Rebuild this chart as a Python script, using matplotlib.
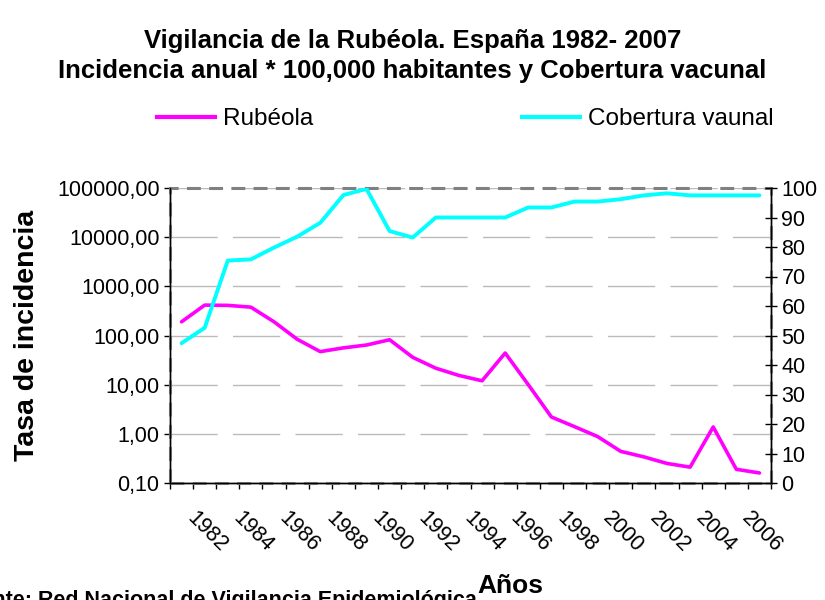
import matplotlib
matplotlib.use("Agg")
import matplotlib.pyplot as plt
import matplotlib.transforms as mtransforms
from matplotlib.patches import Rectangle
from matplotlib.lines import Line2D

plt.rcParams['font.family'] = ['Liberation Sans', 'DejaVu Sans']
plt.rcParams['lines.scale_dashes'] = False

anios = list(range(1982, 2008))
rubeola = [190, 415, 410, 377, 190, 84, 47, 56, 64, 82, 36, 21.6, 15.4, 12,
           44, 10, 2.2, 1.4, 0.88, 0.44, 0.34, 0.25, 0.21, 1.38, 0.19, 0.16]
cobertura = [47.4, 52.6, 75.4, 75.8, 79.8, 83.5, 88.2, 97.6, 99.7, 85.4, 83.2,
             90, 90, 90, 90, 93.4, 93.4, 95.4, 95.4, 96.2, 97.5, 98.2, 97.5,
             97.5, 97.5, 97.5]
ticks_izq = [0.1, 1, 10, 100, 1000, 10000, 100000]
ticks_der = list(range(0, 101, 10))

fig = plt.figure(figsize=(8.25, 6), dpi=100)
ax = fig.add_axes([170/825, 1 - 483/600, (771 - 170)/825, (483 - 188)/600])
ax2 = ax.twinx()

x = list(range(len(anios)))
ax.plot(x, rubeola, color='#FF00FF', lw=2.6, solid_capstyle='round', zorder=3)
ax2.plot(x, cobertura, color='#00FFFF', lw=2.8, solid_capstyle='round', zorder=3)

ax.set_yscale('log')
ax.set_ylim(0.1, 100000)
ax.set_yticks(ticks_izq)
ax.set_yticklabels([f"{v:.2f}".replace('.', ',') for v in ticks_izq], fontsize=15.5)
ax.yaxis.set_minor_locator(plt.NullLocator())
ax.tick_params(axis='y', which='major', direction='out', length=4.5, width=1, pad=3)
ax.yaxis.grid(True, color='#BBBBBB', lw=1, dashes=(34, 11))
ax.set_axisbelow(True)

ax2.set_ylim(0, 100)
ax2.set_yticks(ticks_der)
ax2.set_yticklabels([str(v) for v in ticks_der], fontsize=15.5)
ax2.tick_params(axis='y', direction='inout', length=9, width=1, pad=3)

ax.set_xlim(-0.5, len(anios) - 0.5)
ax.set_xticks([i - 0.5 for i in range(len(anios) + 1)])
ax.set_xticklabels([])
ax.tick_params(axis='x', which='major', direction='out', length=4.5, width=1)
ax.set_xticks(x[::2], minor=True)
ax.set_xticklabels([str(a) for a in anios[::2]], minor=True, fontsize=15.5,
                   rotation=-45, ha='left', va='top', rotation_mode='anchor')
ax.tick_params(axis='x', which='minor', length=0, pad=18)
desplazamiento = mtransforms.ScaledTranslation(16/100, 0, fig.dpi_scale_trans)
for lab in ax.get_xticklabels(minor=True):
    lab.set_transform(lab.get_transform() + desplazamiento)

for a in (ax, ax2):
    for s in a.spines.values():
        s.set_color('black')
        s.set_linewidth(1)
    a.spines['top'].set_visible(False)

borde = Rectangle((0, 0), 1, 1, transform=ax.transAxes, fill=False,
                  edgecolor='#808080', lw=2.2, linestyle=(0, (10, 6)), zorder=5,
                  clip_on=False)
ax.add_patch(borde)

ax.set_ylabel('Tasa de incidencia', fontsize=20.5, fontweight='bold', labelpad=12)

fig.text(0.5, 1 - 56/600,
         'Vigilancia de la Rubéola. España 1982- 2007\n'
         'Incidencia anual * 100,000 habitantes y Cobertura vacunal',
         ha='center', va='center', fontsize=18.5, fontweight='bold', linespacing=1.3)

fig.text(510/825, 1 - 586/600, 'Años', ha='center', va='center',
         fontsize=19, fontweight='bold')
fig.text(477/825, 1 - 590/600, 'Fuente: Red Nacional de Vigilancia Epidemiológica',
         ha='right', va='top', fontsize=15.5, fontweight='bold')

lineas = [Line2D([], [], color='#FF00FF', lw=3),
          Line2D([], [], color='#00FFFF', lw=3)]
fig.legend(lineas, ['Rubéola', 'Cobertura vaunal'], ncol=2, frameon=False,
           loc='center left', bbox_to_anchor=(157/825, 1 - 119/600),
           fontsize=17.5, handlelength=2.4, handletextpad=0.3,
           columnspacing=8.6, borderpad=0, borderaxespad=0)

fig.savefig('out.png', dpi=100, facecolor='white')
